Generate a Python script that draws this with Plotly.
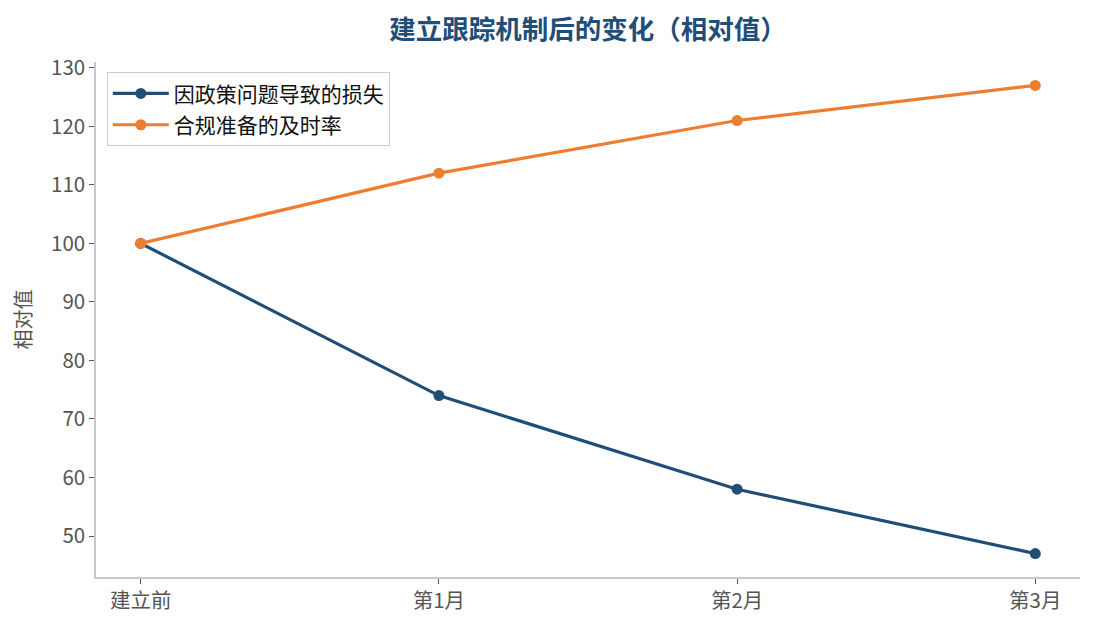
import plotly.graph_objects as go

categories = ['建立前', '第1月', '第2月', '第3月']
loss_values = [100, 74, 58, 47]
timely_values = [100, 112, 121, 127]

FONT = "Noto Sans CJK SC"

fig = go.Figure()
fig.add_scatter(x=categories, y=loss_values, mode="lines+markers",
                name="因政策问题导致的损失", legendgroup="a",
                line=dict(color="#1f4e79", width=3.2),
                marker=dict(size=11, color="#1f4e79"))
fig.add_scatter(x=categories, y=timely_values, mode="lines+markers",
                name="合规准备的及时率", legendgroup="b",
                line=dict(color="#ed7d31", width=3.2),
                marker=dict(size=11, color="#ed7d31"))

fig.update_layout(
    width=1095, height=630,
    paper_bgcolor="white", plot_bgcolor="white",
    margin=dict(l=96, r=15, t=62, b=53),
    font=dict(family=FONT, color="#555555", size=20),
    title=dict(text="<b>建立跟踪机制后的变化（相对值）</b>", x=0.5, xref="paper",
               xanchor="center", y=0.953, yanchor="middle",
               font=dict(family=FONT, size=26.5, color="#1f4e79")),
    legend=dict(x=0.011, y=0.98, xanchor="left", yanchor="top",
                bordercolor="#cccccc", borderwidth=1, bgcolor="white",
                tracegroupgap=1, itemwidth=56,
                font=dict(size=21, color="#111111")),
    showlegend=True,
)
fig.update_xaxes(type="category", range=[-0.15, 3.15], showline=True, linecolor="#c8c8c8",
                 linewidth=1.5, ticks="outside", ticklen=5, tickcolor="#555555",
                 showgrid=False, zeroline=False, tickfont=dict(size=20.5))
fig.update_yaxes(range=[43, 131], dtick=10, showline=True, linecolor="#c8c8c8",
                 linewidth=1.5, ticks="outside", ticklen=5, tickcolor="#555555",
                 showgrid=False, zeroline=False, tickfont=dict(size=20.5),
                 title=dict(text="相对值", font=dict(size=20, color="#555555"), standoff=14))

# drop the default 8px body margin so the figure sits at the page origin
fig.write_html("out.html", config={"displayModeBar": False},
               post_script="document.body.style.margin='0';")
